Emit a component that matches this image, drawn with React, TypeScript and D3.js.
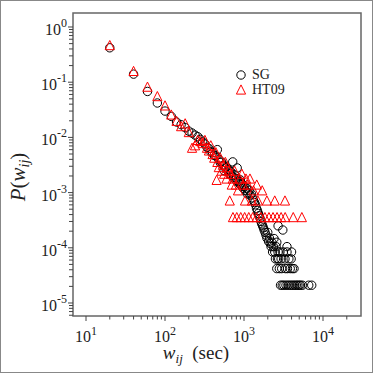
import React from "react";
import * as d3 from "d3";

// SG contact durations (sec) and their probability
const sgX = [20, 40, 60, 80, 100, 120, 140, 160, 180, 200, 220, 240, 260, 280, 300, 320, 340, 360, 380, 400,
  420, 440, 460, 480, 500, 520, 540, 560, 580, 600, 620, 640, 660, 680, 700, 720, 740, 760, 780, 800,
  820, 840, 860, 880, 900, 920, 940, 960, 980, 1000, 1040, 1080, 1120, 1160, 1200, 1240, 1280, 1320, 1360, 1400,
  1440, 1480, 1520, 1560, 1600, 1640, 1680, 1720, 1760, 1800, 1850, 1900, 1950, 2000, 2050, 2100, 2150, 2200, 2250, 2300,
  2350, 2400, 2450, 2500, 2550, 2600, 2650, 2700, 2750, 2800, 2850, 2900, 2950, 3000, 3050, 3100, 3150, 3200, 3300, 3350,
  3400, 3500, 3550, 3600, 3700, 3800, 3850, 3950, 4000, 4100, 4200, 4300, 4400, 4600, 4800, 5000, 5200, 5500, 6600, 7200,
  2600, 3500, 4000, 2700, 560, 900, 1100];
const sgY = [0.42, 0.14, 0.068, 0.042, 0.030, 0.024, 0.019, 0.017, 0.015, 0.013, 0.012, 0.011, 0.0103, 0.0092, 0.0083, 0.0076, 0.0066, 0.0063, 0.0055, 0.0053,
  0.0047, 0.0046, 0.0060, 0.0040, 0.0035, 0.0036, 0.0031, 0.0031, 0.0028, 0.0029, 0.0025, 0.0026, 0.0022, 0.0024, 0.0020, 0.0036, 0.0019, 0.0021, 0.0017, 0.0018,
  0.0028, 0.0016, 0.0015, 0.0016, 0.0014, 0.0015, 0.0013, 0.0014, 0.0012, 0.0013, 0.0011, 0.0012, 0.0010, 0.0011, 0.00090, 0.00095, 0.00080, 0.00072, 0.00066, 0.00060,
  0.00052, 0.00047, 0.00042, 0.00038, 0.00034, 0.00030, 0.00027, 0.00025, 0.00023, 0.00021, 0.00019, 0.00017, 0.00015, 0.00019, 0.00013, 0.00015, 0.00012, 0.000105, 0.000126, 0.000084,
  0.000105, 0.000147, 0.000084, 0.000063, 0.000105, 0.000126, 0.000063, 0.000084, 0.000063, 0.000042, 0.000084, 0.000021, 0.000063, 0.000042, 0.000021, 0.00021, 0.000084, 0.000021, 0.000063, 0.000042,
  0.000021, 0.000084, 0.000042, 0.000021, 0.000063, 0.000021, 0.000042, 0.000063, 0.000021, 0.000042, 0.000021, 0.000042, 0.000021, 0.000021, 0.000021, 0.000021, 0.000021, 0.000021, 0.000021, 0.000021,
  0.000042, 0.000105, 0.000084, 0.00025, 0.0025, 0.0017, 0.00095];

// HT09
const htX = [20, 40, 60, 80, 100, 120, 140, 160, 180, 200, 220, 240, 260, 280, 300, 320, 340, 360, 380, 400,
  420, 440, 450, 460, 480, 500, 520, 540, 560, 580, 600, 620, 640, 660, 680, 700, 720, 725, 760, 790,
  810, 840, 880, 910, 940, 980, 1020, 1030, 1060, 1120, 1150, 1190, 1260, 1290, 1320, 1450, 1450, 1500, 1640, 1700,
  1840, 1950, 2070, 2330, 2450, 2620, 2950, 3300, 3320, 4200, 5400];
const htY = [0.47, 0.16, 0.083, 0.056, 0.038, 0.026, 0.020, 0.016, 0.018, 0.0125, 0.0065, 0.0072, 0.0090, 0.0086, 0.0079, 0.0090, 0.0065, 0.0058, 0.0072, 0.0050,
  0.0043, 0.0054, 0.0017, 0.0036, 0.0029, 0.0043, 0.0025, 0.0032, 0.0022, 0.0036, 0.0018, 0.0029, 0.0025, 0.00072, 0.0022, 0.0014, 0.0018, 0.00036, 0.0025, 0.0014,
  0.00036, 0.0011, 0.0018, 0.00036, 0.0022, 0.0014, 0.00036, 0.00072, 0.0018, 0.0014, 0.00036, 0.0018, 0.00072, 0.00036, 0.0011, 0.00036, 0.0014, 0.00072, 0.00036, 0.0011,
  0.00036, 0.00072, 0.00036, 0.00036, 0.00072, 0.00036, 0.00036, 0.00072, 0.00036, 0.00036, 0.00036];

const xTickExps = [1, 2, 3, 4];
const yTickExps = [0, -1, -2, -3, -4, -5];
const legendLabels = ["SG", "HT09"];

const font = "'Liberation Serif', 'DejaVu Serif', serif";
const box = { left: 73, top: 13, right: 361, bottom: 316 };

export default function App() {
  const x = d3.scaleLog().domain([6.846, 30270]).range([box.left, box.right]);
  const y = d3.scaleLog().domain([5.814e-6, 1.793]).range([box.bottom, box.top]);

  // minor ticks, 2..9 in every decade
  const xMinor: number[] = [];
  for (let e = 1; e <= 4; e++) for (let m = 2; m <= 9; m++) if (m * 10 ** e < 29000) xMinor.push(m * 10 ** e);
  const yMinor: number[] = [];
  for (let e = -6; e <= -1; e++) for (let m = 2; m <= 9; m++) {
    const v = m * 10 ** e;
    if (v > 5.9e-6 && v < 1.75) yMinor.push(v);
  }

  const tri = "M0,-4.6L4.6,4.6L-4.6,4.6Z";

  return (
    <svg width={374} height={374} style={{ position: "absolute", left: 0, top: 0 }}>
      <rect x={0} y={0} width={374} height={374} fill="#fff" />
      <rect x={0.5} y={0.5} width={372} height={372} fill="none" stroke="#888" strokeWidth={1} />

      {sgX.map((d, i) => (
        <circle key={"sg" + i} cx={x(d)} cy={y(sgY[i])} r={4.2} fill="none" stroke="#000" strokeWidth={1} />
      ))}
      {htX.map((d, i) => (
        <path key={"ht" + i} d={tri} transform={`translate(${x(d)},${y(htY[i])})`} fill="none" stroke="#f00" strokeWidth={1} />
      ))}

      <rect x={box.left} y={box.top} width={box.right - box.left} height={box.bottom - box.top}
        fill="none" stroke="#666" strokeWidth={1.5} />

      {/* x ticks */}
      {xTickExps.map(e => (
        <line key={"xM" + e} x1={x(10 ** e)} x2={x(10 ** e)} y1={box.bottom} y2={box.bottom + 5} stroke="#444" strokeWidth={1} />
      ))}
      {xMinor.map(v => (
        <line key={"xm" + v} x1={x(v)} x2={x(v)} y1={box.bottom} y2={box.bottom + 3.5} stroke="#444" strokeWidth={1} />
      ))}
      {xTickExps.map(e => (
        <text key={"xl" + e} x={x(10 ** e)} y={342} textAnchor="middle" fontFamily={font} fill="#222">
          <tspan fontSize={16}>10</tspan>
          <tspan fontSize={12} dy={-7.5}>{e}</tspan>
        </text>
      ))}

      {/* y ticks */}
      {yTickExps.map(e => (
        <line key={"yM" + e} x1={box.left - 5} x2={box.left} y1={y(10 ** e)} y2={y(10 ** e)} stroke="#444" strokeWidth={1} />
      ))}
      {yMinor.map(v => (
        <line key={"ym" + v} x1={box.left - 4} x2={box.left} y1={y(v)} y2={y(v)} stroke="#444" strokeWidth={1} />
      ))}
      {yTickExps.map(e => (
        <text key={"yl" + e} x={67} y={y(10 ** e) + 8} textAnchor="end" fontFamily={font} fill="#222">
          <tspan fontSize={16}>10</tspan>
          <tspan fontSize={12} dy={-8}>{e}</tspan>
        </text>
      ))}

      {/* axis labels */}
      <text x={196} y={359} textAnchor="middle" fontFamily={font} fontSize={19} fill="#222">
        <tspan fontStyle="italic">w</tspan>
        <tspan fontStyle="italic" fontSize={13} dy={4}>ij</tspan>
        <tspan dy={-4}>{"\u2002(sec)"}</tspan>
      </text>
      <text transform="translate(25,177) rotate(-90)" textAnchor="middle" fontFamily={font} fontSize={21} fill="#222">
        <tspan fontStyle="italic">P</tspan>
        <tspan>(</tspan>
        <tspan fontStyle="italic">w</tspan>
        <tspan fontStyle="italic" fontSize={14} dy={4}>ij</tspan>
        <tspan dy={-4}>)</tspan>
      </text>

      {/* legend */}
      <circle cx={241} cy={75} r={4.2} fill="none" stroke="#000" strokeWidth={1} />
      <text x={252} y={79} fontFamily={font} fontSize={14} fill="#222">{legendLabels[0]}</text>
      <path d={tri} transform="translate(241,89.5)" fill="none" stroke="#f00" strokeWidth={1} />
      <text x={252} y={94} fontFamily={font} fontSize={14} fill="#222">{legendLabels[1]}</text>
    </svg>
  );
}
